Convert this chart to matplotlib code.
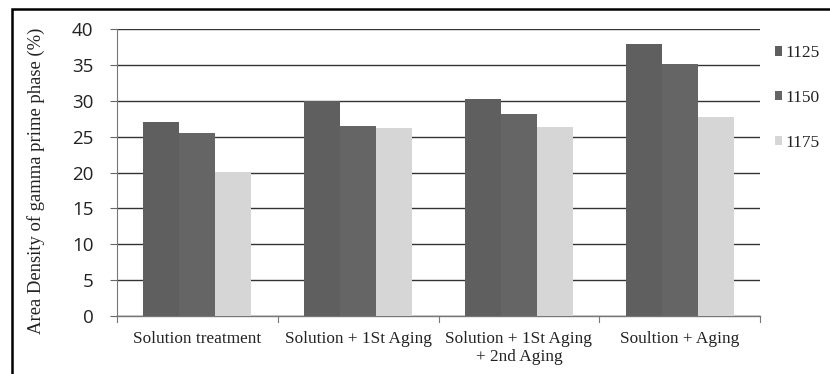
import matplotlib
matplotlib.use("Agg")
import matplotlib.pyplot as plt
import numpy as np
from matplotlib.patches import Rectangle

# Area density of gamma prime phase per heat treatment and solution temperature
categories = ["Solution treatment", "Solution + 1St Aging", "Solution + 1St Aging\n+ 2nd Aging", "Soultion + Aging"]
series_names = ["1125", "1150", "1175"]
values_1125 = [27.0, 30.0, 30.2, 37.9]
values_1150 = [25.5, 26.5, 28.1, 35.1]
values_1175 = [20.0, 26.2, 26.4, 27.7]
y_ticks = [0, 5, 10, 15, 20, 25, 30, 35, 40]

colors = ["#5f5f5f", "#656565", "#d6d6d6"]
series = [values_1125, values_1150, values_1175]

W, H = 830, 374
fig = plt.figure(figsize=(W / 100, H / 100), dpi=100)
fig.patch.set_facecolor("white")

# Frame around the chart area
fig.add_artist(Rectangle((12 / W, -0.05), 1.1, 1 - 9 / H + 0.05,
                         transform=fig.transFigure, fill=False,
                         edgecolor="black", linewidth=1.8))

ax = fig.add_axes([117 / W, 1 - 316 / H, (760 - 117) / W, (316 - 29) / H])

x = np.arange(len(categories))
bw = 0.224
for i, (vals, col, name) in enumerate(zip(series, colors, series_names)):
    ax.bar(x + (i - 1) * bw, vals, width=bw, color=col, label=name,
           zorder=3, linewidth=0)

ax.set_xlim(-0.5, len(categories) - 0.5)
ax.set_ylim(0, 40)
ax.set_yticks(y_ticks)
ax.set_yticklabels([str(t) for t in y_ticks], fontfamily="Open Sans",
                   fontsize=13.5, color="#222222")
ax.yaxis.grid(True, color="#333333", linewidth=1.0, zorder=1)
ax.tick_params(axis="y", length=5, width=0.8, color="#666666", pad=12)

ax.set_xticks(x)
ax.set_xticklabels(categories, fontfamily="Liberation Serif", fontsize=12.4,
                   color="#222222", linespacing=1.15)
ax.tick_params(axis="x", length=0, pad=11)
# boundary ticks between categories
for b in np.arange(-0.5, len(categories), 1.0):
    ax.plot([b, b], [0, -0.8], color="#777777", linewidth=0.8,
            clip_on=False, zorder=4)

for s in ["top", "right"]:
    ax.spines[s].set_visible(False)
ax.spines["left"].set_color("#777777")
ax.spines["left"].set_linewidth(0.8)
ax.spines["bottom"].set_color("#777777")
ax.spines["bottom"].set_linewidth(1.0)

ax.set_ylabel("Area Density of gamma prime phase (%)",
              fontfamily="Liberation Serif", fontsize=13.4, color="#222222")
ax.yaxis.set_label_coords(-(117 - 45) / (760 - 117), (316 - 181) / (316 - 29))

leg = ax.legend(loc="upper left", bbox_to_anchor=(1.012, 0.968), frameon=False,
                prop={"family": "Liberation Serif", "size": 12.5},
                handlelength=0.45, handleheight=0.45, handletextpad=0.2,
                labelspacing=1.66, borderaxespad=0)
for t in leg.get_texts():
    t.set_color("#222222")

fig.savefig("out.png", dpi=100, facecolor="white")
